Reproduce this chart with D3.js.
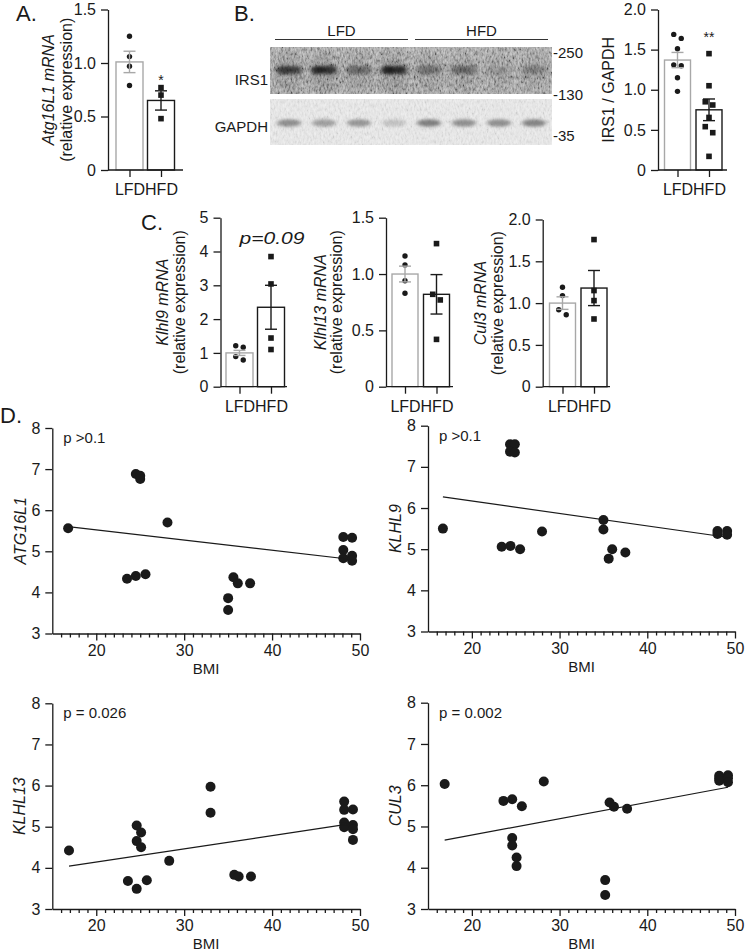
<!DOCTYPE html>
<html><head><meta charset="utf-8">
<script src="https://cdn.jsdelivr.net/npm/d3@7/dist/d3.min.js"></script>
<style>
body{margin:0;background:#fff;}
svg text{font-family:"Liberation Sans",Arial,Helvetica,sans-serif;fill:#1a1a1a;}
</style></head><body>
<svg id="fig" width="745" height="951"></svg>
<script>
// ---------------- DATA ----------------
const groups = ["LFD", "HFD"];

// A. Atg16L1 mRNA
const atgMean = [1.01, 0.65];
const atgSem = [0.10, 0.09];
const atgLFD = [1.25, 1.06, 0.97, 0.79];
const atgHFD = [0.77, 0.70, 0.48];
const atgTicks = [0, 0.5, 1.0, 1.5];

// B. Western blot quantification IRS1 / GAPDH
const irsMean = [1.37, 0.75];
const irsSem = [0.095, 0.135];
const irsLFD = [1.69, 1.64, 1.51, 1.31, 1.30, 1.15, 0.98];
const irsHFD = [1.45, 1.05, 0.85, 0.81, 0.655, 0.54, 0.465, 0.17];
const irsTicks = [0, 0.5, 1.0, 1.5, 2.0];

// B. blot lanes and band intensities
const lanes = ["LFD1", "LFD2", "LFD3", "LFD4", "HFD1", "HFD2", "HFD3", "HFD4"];
const irs1Band = [0.70, 0.85, 0.40, 0.90, 0.35, 0.40, 0.12, 0.25];
const gapdhBand = [0.55, 0.45, 0.50, 0.22, 0.65, 0.55, 0.55, 0.62];
const markerLabels = ["250", "130", "35"];

// C. Klhl9 / Klhl13 / Cul3 mRNA
const klhl9Mean = [1.0, 2.35], klhl9Sem = [0.075, 0.65];
const klhl9LFD = [1.21, 1.17, 0.89, 0.79], klhl9HFD = [3.85, 3.04, 1.44, 1.10];
const klhl9Ticks = [0, 1, 2, 3, 4, 5];
const klhl13Mean = [1.0, 0.82], klhl13Sem = [0.07, 0.175];
const klhl13LFD = [1.16, 1.08, 0.94, 0.83], klhl13HFD = [1.27, 0.82, 0.77, 0.42];
const klhl13Ticks = [0, 0.5, 1.0, 1.5];
const cul3Mean = [1.0, 1.18], cul3Sem = [0.075, 0.21];
const cul3LFD = [1.19, 1.09, 0.92, 0.86], cul3HFD = [1.76, 1.15, 1.03, 0.81];
const cul3Ticks = [0, 0.5, 1.0, 1.5, 2.0];

// D. Correlations with BMI
const yTicksD = [3, 4, 5, 6, 7, 8];
const bmiTicks = [20, 30, 40, 50];
const atgBmi = [16.8, 24.5, 25.0, 25.0, 28.1, 23.5, 24.5, 25.6, 35.6, 36.1, 37.5, 35.0, 35.0, 48.1, 49.1, 48.1, 48.1, 49.1, 49.1];
const atgVal = [5.56, 6.88, 6.84, 6.76, 5.70, 4.33, 4.40, 4.44, 4.37, 4.22, 4.22, 3.86, 3.57, 5.35, 5.33, 5.03, 4.83, 4.89, 4.77];
const atgFit = [[16.8, 5.60], [49.1, 4.80]];
const klhl9Bmi = [16.7, 23.4, 24.4, 25.5, 28.0, 24.35, 24.9, 24.35, 24.9, 35.0, 35.0, 35.6, 36.0, 37.5, 48.0, 49.1, 48.0, 49.1];
const klhl9Val = [5.50, 5.06, 5.08, 5.00, 5.43, 7.55, 7.55, 7.37, 7.35, 5.71, 5.48, 4.77, 5.00, 4.92, 5.44, 5.44, 5.37, 5.35];
const klhl9Fit = [[16.7, 6.27], [49.1, 5.29]];
const klhl13Bmi = [16.9, 23.6, 24.6, 25.75, 24.6, 25.1, 24.6, 25.1, 28.3, 33.0, 33.0, 35.7, 36.2, 37.6, 48.2, 48.2, 48.2, 48.2, 49.2, 49.2, 49.2, 49.2];
const klhl13Val = [4.42, 3.68, 3.49, 3.70, 5.03, 4.86, 4.65, 4.50, 4.17, 5.97, 5.34, 3.83, 3.79, 3.79, 5.61, 5.41, 5.10, 4.99, 5.42, 5.04, 4.94, 4.68];
const klhl13Fit = [[16.9, 4.04], [49.2, 5.08]];
const cul3Bmi = [16.9, 23.6, 24.6, 25.7, 28.2, 24.6, 24.6, 25.1, 25.1, 35.2, 35.2, 35.7, 36.2, 37.7, 48.2, 48.2, 48.2, 49.2, 49.2, 49.2];
const cul3Val = [6.03, 5.62, 5.66, 5.49, 6.09, 4.72, 4.54, 4.25, 4.04, 3.70, 3.34, 5.58, 5.48, 5.43, 6.23, 6.17, 6.11, 6.24, 6.17, 6.07];
const cul3Fit = [[16.9, 4.67], [49.2, 5.95]];

// ---------------- DRAWING ----------------
const INK = "#1a1a1a", GRAY = "#a8a8a8";
const svg = d3.select("#fig");
const defs = svg.append("defs");

function fmtBar(d) { return d === 0 ? "0" : d3.format(".1f")(d); }

function styleAxis(g) {
  g.selectAll("path,line").attr("stroke", INK).attr("stroke-width", 1.3);
  g.selectAll("text").attr("fill", INK).style("font-size", "16px")
    .style("font-family", '"Liberation Sans",Arial,sans-serif');
}

function spread(vals, y, thr, step) {
  // groups points whose pixel gap is small and spreads them symmetrically
  const idx = vals.map((v, i) => i).sort((a, b) => vals[b] - vals[a]);
  const off = new Array(vals.length).fill(0);
  let cluster = [idx[0]];
  const flush = () => {
    cluster.forEach((k, j) => off[k] = (j - (cluster.length - 1) / 2) * step);
  };
  for (let i = 1; i < idx.length; i++) {
    if (Math.abs(y(vals[idx[i]]) - y(vals[cluster[cluster.length - 1]])) < thr) cluster.push(idx[i]);
    else { flush(); cluster = [idx[i]]; }
  }
  flush();
  return off;
}

function barPanel(o) {
  const g = svg.append("g");
  const y = d3.scaleLinear().domain([0, o.max]).range([o.y0, o.yTop]);
  const x = d3.scalePoint().domain(groups).range(o.centers);
  const pts = [o.lfd, o.hfd];
  groups.forEach((grp, i) => {
    g.append("rect")
      .attr("x", x(grp) - o.bw / 2).attr("y", y(o.mean[i]))
      .attr("width", o.bw).attr("height", y(0) - y(o.mean[i]))
      .attr("fill", "#fff").attr("stroke", i === 0 ? GRAY : INK).attr("stroke-width", 1.4);
  });
  // points
  groups.forEach((grp, i) => {
    const off = spread(pts[i], y, 7, 7.5);
    pts[i].forEach((v, k) => {
      if (i === 0) {
        g.append("circle").attr("cx", x(grp) + off[k]).attr("cy", y(v)).attr("r", 2.7).attr("fill", INK);
      } else {
        g.append("rect").attr("x", x(grp) + off[k] - 2.8).attr("y", y(v) - 2.8)
          .attr("width", 5.6).attr("height", 5.6).attr("fill", INK);
      }
    });
  });
  // error bars
  groups.forEach((grp, i) => {
    const col = i === 0 ? GRAY : INK;
    const lo = y(o.mean[i] - o.sem[i]), hi = y(o.mean[i] + o.sem[i]);
    g.append("line").attr("x1", x(grp)).attr("x2", x(grp)).attr("y1", lo).attr("y2", hi)
      .attr("stroke", col).attr("stroke-width", 1.4);
    [lo, hi].forEach(yy => g.append("line").attr("x1", x(grp) - 6).attr("x2", x(grp) + 6)
      .attr("y1", yy).attr("y2", yy).attr("stroke", col).attr("stroke-width", 1.4));
  });
  // axes
  const ya = g.append("g").attr("transform", `translate(${o.ax},0)`)
    .call(d3.axisLeft(y).tickValues(o.ticks).tickFormat(o.fmt || fmtBar).tickSize(7).tickSizeOuter(0).tickPadding(5));
  styleAxis(ya);
  g.append("line").attr("x1", o.ax).attr("x2", o.xEnd).attr("y1", o.y0).attr("y2", o.y0)
    .attr("stroke", INK).attr("stroke-width", 1.3);
  const xa = g.append("g").attr("transform", `translate(0,${o.y0})`)
    .call(d3.axisBottom(x).tickSize(7).tickSizeOuter(0).tickPadding(7));
  xa.select(".domain").remove();
  styleAxis(xa);
  // y labels
  const mid = (o.y0 + o.yTop) / 2;
  o.labels.forEach((t, i) => {
    g.append("text").attr("transform", `translate(${o.lx[i]},${mid}) rotate(-90)`)
      .attr("text-anchor", "middle").attr("dy", "0.35em")
      .style("font-size", "16px").style("font-style", t.italic ? "italic" : "normal")
      .text(t.text);
  });
  return { g, x, y };
}

// ---- Panel A
svg.append("text").attr("x", 16).attr("y", 20.5).style("font-size", "22px").text("A.");
const pA = barPanel({ ax: 108, y0: 170, yTop: 9.5, max: 1.5, ticks: atgTicks, centers: [129.5, 161], bw: 27, xEnd: 183,
  mean: atgMean, sem: atgSem, lfd: atgLFD, hfd: atgHFD,
  labels: [{ text: "Atg16L1 mRNA", italic: true }, { text: "(relative expression)" }], lx: [48, 66] });
pA.g.append("text").attr("x", pA.x("HFD")).attr("y", pA.y(atgMean[1] + atgSem[1]) - 6)
  .attr("text-anchor", "middle").style("font-size", "14px").text("*");

// ---- Panel B blot
svg.append("text").attr("x", 234).attr("y", 20.5).style("font-size", "22px").text("B.");
const grain = defs.append("filter").attr("id", "grain").attr("x", 0).attr("y", 0).attr("width", 1).attr("height", 1);
grain.append("feTurbulence").attr("type", "fractalNoise").attr("baseFrequency", "0.55 0.25").attr("numOctaves", 3).attr("seed", 7).attr("result", "n");
grain.append("feColorMatrix").attr("in", "n").attr("type", "matrix")
  .attr("values", "1.6 0 0 0 -0.3  1.6 0 0 0 -0.3  1.6 0 0 0 -0.3  0 0 0 0 1").attr("result", "g");
grain.append("feComposite").attr("in", "g").attr("in2", "SourceGraphic").attr("operator", "in");
const blur2 = defs.append("filter").attr("id", "blur2").attr("x", "-50%").attr("y", "-100%").attr("width", "200%").attr("height", "300%");
blur2.append("feGaussianBlur").attr("stdDeviation", "2.2 1.6");
const blur6 = defs.append("filter").attr("id", "blur6").attr("x", "-50%").attr("y", "-50%").attr("width", "200%").attr("height", "200%");
blur6.append("feGaussianBlur").attr("stdDeviation", "5 6");

const blotX = [270, 552];
const lane = d3.scalePoint().domain(lanes).range([289, 534]);
const blot = svg.append("g");
// group headers
[["LFD", lanes.slice(0, 4)], ["HFD", lanes.slice(4)]].forEach(([lab, ls]) => {
  const x1 = lane(ls[0]) - 14, x2 = lane(ls[3]) + 14;
  blot.append("line").attr("x1", x1).attr("x2", x2).attr("y1", 39.5).attr("y2", 39.5).attr("stroke", "#333").attr("stroke-width", 1.2);
  blot.append("text").attr("x", (x1 + x2) / 2).attr("y", 36).attr("text-anchor", "middle").style("font-size", "15px").text(lab);
});
// IRS1 strip
const cp1 = defs.append("clipPath").attr("id", "cp1");
cp1.append("rect").attr("x", blotX[0]).attr("y", 47).attr("width", blotX[1] - blotX[0]).attr("height", 47);
const s1 = blot.append("g").attr("clip-path", "url(#cp1)");
s1.append("rect").attr("x", blotX[0]).attr("y", 47).attr("width", blotX[1] - blotX[0]).attr("height", 47).attr("fill", "#a9a9a9");
lanes.forEach((l, i) => {
  s1.append("ellipse").attr("cx", lane(l)).attr("cy", 74).attr("rx", 15).attr("ry", 22)
    .attr("fill", "#555").attr("opacity", 0.25 + 0.3 * irs1Band[i]).attr("filter", "url(#blur6)");
});
s1.append("rect").attr("x", blotX[0]).attr("y", 47).attr("width", blotX[1] - blotX[0]).attr("height", 47)
  .attr("fill", "#888").attr("opacity", 0.45).attr("filter", "url(#grain)");
lanes.forEach((l, i) => {
  s1.append("ellipse").attr("cx", lane(l) - 5).attr("cy", 70).attr("rx", 8).attr("ry", 4.5)
    .attr("fill", "#141414").attr("opacity", irs1Band[i]).attr("filter", "url(#blur2)");
  s1.append("ellipse").attr("cx", lane(l) + 6).attr("cy", 70).attr("rx", 7).attr("ry", 4.5)
    .attr("fill", "#141414").attr("opacity", irs1Band[i] * 0.9).attr("filter", "url(#blur2)");
});
// GAPDH strip
const cp2 = defs.append("clipPath").attr("id", "cp2");
cp2.append("rect").attr("x", blotX[0]).attr("y", 99).attr("width", blotX[1] - blotX[0]).attr("height", 46);
const s2 = blot.append("g").attr("clip-path", "url(#cp2)");
s2.append("rect").attr("x", blotX[0]).attr("y", 99).attr("width", blotX[1] - blotX[0]).attr("height", 46).attr("fill", "#ececec");
s2.append("rect").attr("x", blotX[0]).attr("y", 99).attr("width", blotX[1] - blotX[0]).attr("height", 46)
  .attr("fill", "#ddd").attr("opacity", 0.12).attr("filter", "url(#grain)");
lanes.forEach((l, i) => {
  s2.append("ellipse").attr("cx", lane(l)).attr("cy", 123).attr("rx", 12).attr("ry", 3.8)
    .attr("fill", "#4a4a4a").attr("opacity", gapdhBand[i]).attr("filter", "url(#blur2)");
});
// blot labels
blot.append("text").attr("x", 268).attr("y", 85).attr("text-anchor", "end").style("font-size", "15px").text("IRS1");
blot.append("text").attr("x", 268).attr("y", 132).attr("text-anchor", "end").style("font-size", "15px").text("GAPDH");
const markerY = [53, 95, 136];
markerLabels.forEach((m, i) => {
  blot.append("text").attr("x", 553).attr("y", markerY[i] + 5).style("font-size", "15px").text("-" + m);
});

// ---- Panel B quantification
const pB = barPanel({ ax: 658, y0: 170, yTop: 9.5, max: 2.0, ticks: irsTicks, centers: [677.5, 709], bw: 26, xEnd: 727,
  mean: irsMean, sem: irsSem, lfd: irsLFD, hfd: irsHFD,
  labels: [{ text: "IRS1 / GAPDH" }], lx: [608] });
pB.g.append("text").attr("x", pB.x("HFD")).attr("y", 42)
  .attr("text-anchor", "middle").style("font-size", "14px").text("**");

// ---- Panel C
svg.append("text").attr("x", 141).attr("y", 230).style("font-size", "22px").text("C.");
const pC1 = barPanel({ ax: 220.5, y0: 386.7, yTop: 217.7, max: 5, ticks: klhl9Ticks, fmt: d3.format("d"), centers: [239.5, 271], bw: 27, xEnd: 287,
  mean: klhl9Mean, sem: klhl9Sem, lfd: klhl9LFD, hfd: klhl9HFD,
  labels: [{ text: "Klhl9 mRNA", italic: true }, { text: "(relative expression)" }], lx: [162, 179] });
pC1.g.append("text").attr("x", 272).attr("y", 244).attr("text-anchor", "middle")
  .attr("textLength", 65).attr("lengthAdjust", "spacingAndGlyphs")
  .style("font-size", "17px").style("font-style", "italic").text("p=0.09");
barPanel({ ax: 386, y0: 386.7, yTop: 217.7, max: 1.5, ticks: klhl13Ticks, centers: [405, 436.5], bw: 26, xEnd: 453,
  mean: klhl13Mean, sem: klhl13Sem, lfd: klhl13LFD, hfd: klhl13HFD,
  labels: [{ text: "Klhl13 mRNA", italic: true }, { text: "(relative expression)" }], lx: [320, 336] });
barPanel({ ax: 542.7, y0: 386.7, yTop: 219.5, max: 2.0, ticks: cul3Ticks, centers: [562.5, 594], bw: 26, xEnd: 610,
  mean: cul3Mean, sem: cul3Sem, lfd: cul3LFD, hfd: cul3HFD,
  labels: [{ text: "Cul3 mRNA", italic: true }, { text: "(relative expression)" }], lx: [480, 497] });

// ---- Panel D
svg.append("text").attr("x", 0).attr("y", 423).style("font-size", "22px").text("D.");

function scatterPanel(o) {
  const g = svg.append("g");
  const x = d3.scaleLinear().domain([15, 50]).range(o.xr);
  const y = d3.scaleLinear().domain([3, 8]).range(o.yr);
  const ya = g.append("g").attr("transform", `translate(${o.xr[0]},0)`)
    .call(d3.axisLeft(y).tickValues(yTicksD).tickFormat(d3.format("d")).tickSize(7).tickSizeOuter(0).tickPadding(5));
  styleAxis(ya);
  const minor = d3.range(16, 50).filter(d => d % 10 !== 0);
  const xm = g.append("g").attr("transform", `translate(0,${o.yr[0]})`)
    .call(d3.axisBottom(x).tickValues(minor).tickFormat("").tickSize(4).tickSizeOuter(0));
  styleAxis(xm);
  const xa = g.append("g").attr("transform", `translate(0,${o.yr[0]})`)
    .call(d3.axisBottom(x).tickValues(bmiTicks).tickFormat(d3.format("d")).tickSize(7).tickSizeOuter(0).tickPadding(4));
  styleAxis(xa);
  xa.select(".domain").remove();
  g.append("text").attr("x", (o.xr[0] + o.xr[1]) / 2).attr("y", o.yr[0] + 40).attr("text-anchor", "middle")
    .style("font-size", "15px").text("BMI");
  g.append("text").attr("transform", `translate(${o.lx},${(o.yr[0] + o.yr[1]) / 2}) rotate(-90)`)
    .attr("text-anchor", "middle").attr("dy", "0.35em").style("font-size", "16px").style("font-style", "italic").text(o.label);
  g.append("text").attr("x", o.xr[0] + 11).attr("y", o.yr[1] + 15).style("font-size", "15px").text(o.p);
  o.bmi.forEach((b, i) => {
    g.append("circle").attr("cx", x(b)).attr("cy", y(o.val[i])).attr("r", 5).attr("fill", INK);
  });
  g.append("path").datum(o.fit).attr("d", d3.line().x(d => x(d[0])).y(d => y(d[1])))
    .attr("stroke", INK).attr("stroke-width", 1.2).attr("fill", "none");
}

scatterPanel({ xr: [52.3, 360], yr: [633.5, 428], bmi: atgBmi, val: atgVal, fit: atgFit, label: "ATG16L1", lx: 20, p: "p >0.1" });
scatterPanel({ xr: [428, 735], yr: [631.5, 425.7], bmi: klhl9Bmi, val: klhl9Val, fit: klhl9Fit, label: "KLHL9", lx: 395, p: "p >0.1" });
scatterPanel({ xr: [52.3, 360], yr: [909, 703.3], bmi: klhl13Bmi, val: klhl13Val, fit: klhl13Fit, label: "KLHL13", lx: 19, p: "p = 0.026" });
scatterPanel({ xr: [428, 735], yr: [909, 702.7], bmi: cul3Bmi, val: cul3Val, fit: cul3Fit, label: "CUL3", lx: 395, p: "p = 0.002" });
</script>
</body></html>
